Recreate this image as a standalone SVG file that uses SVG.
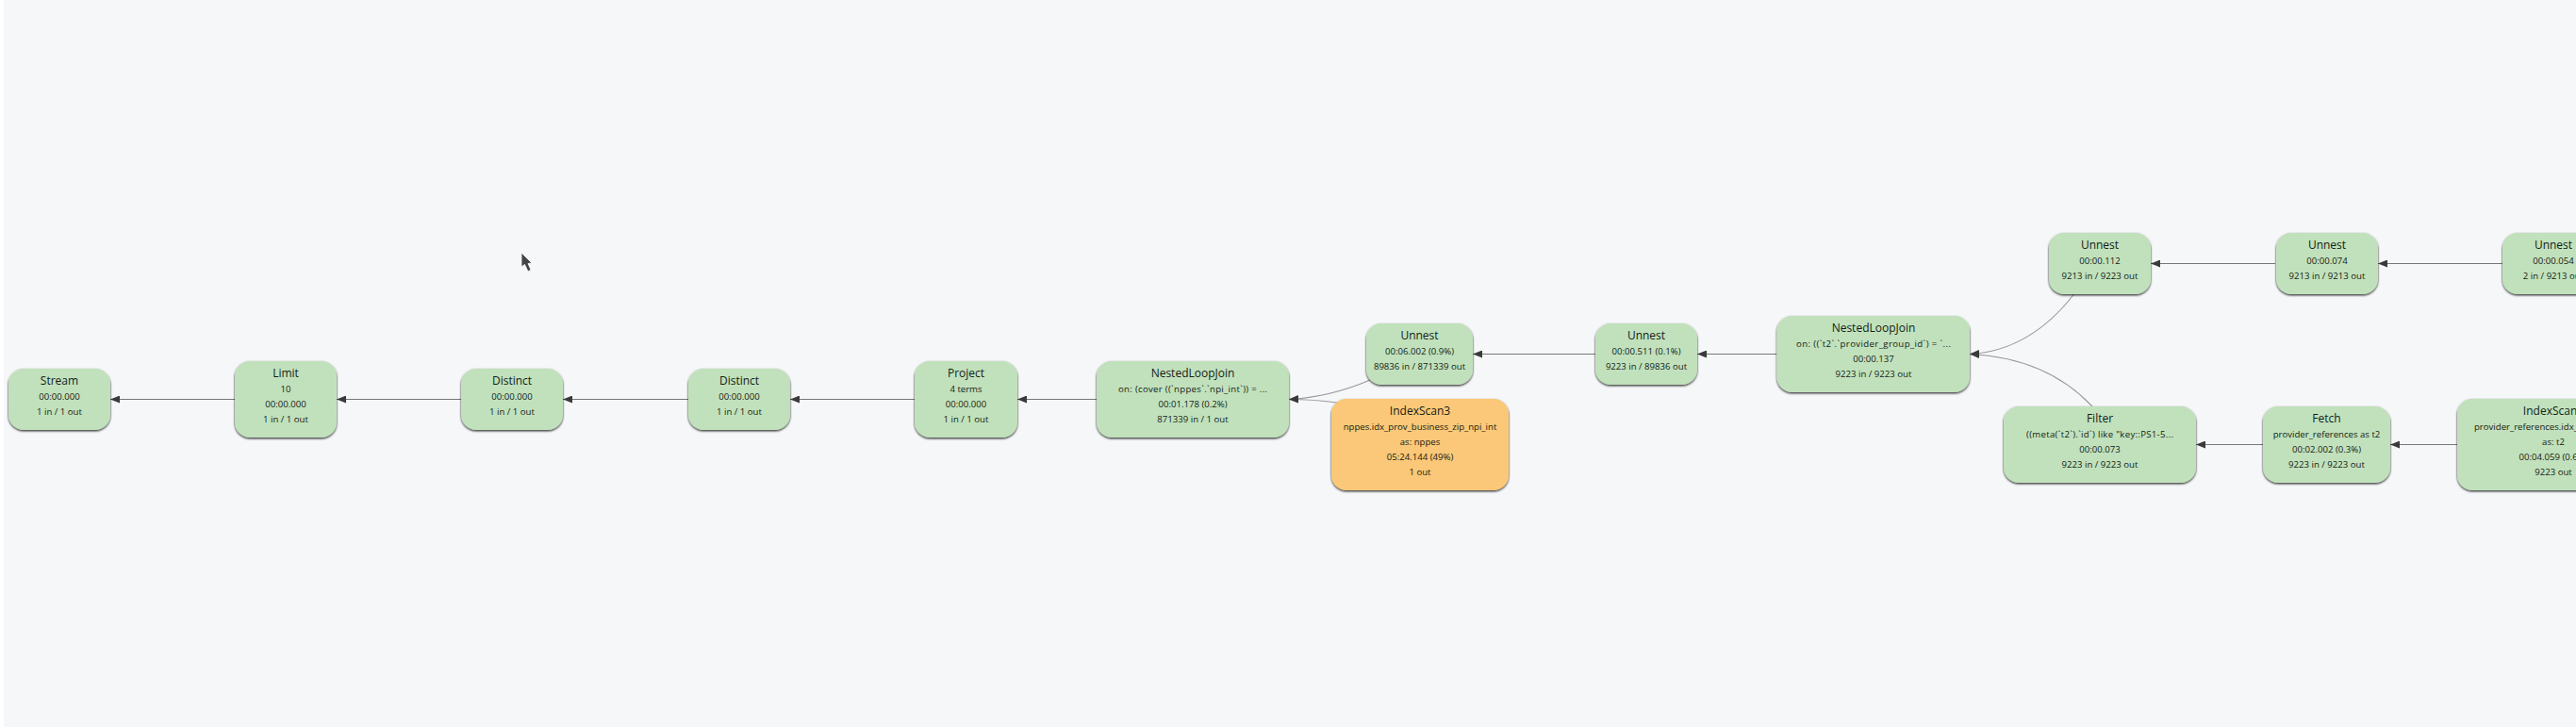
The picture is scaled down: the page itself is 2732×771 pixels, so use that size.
<svg xmlns="http://www.w3.org/2000/svg" width="2732" height="771" viewBox="0 0 2732 771">
<style>
text{font-family:"Open Sans","Noto Sans","DejaVu Sans",sans-serif;text-anchor:middle;fill:#141c14}
.t{font-size:12px}
.s{font-size:9.6px}
.l{text-anchor:start}
.g{fill:#c1e1bc;filter:url(#sh)}
.o{fill:#fac878;filter:url(#sh)}
.e{fill:none;stroke:#777;stroke-width:1.2;marker-end:url(#a)}
.c{fill:none;stroke:#999;stroke-width:1.1;marker-end:url(#a)}
</style>
<defs>
<filter id="sh" x="-10%" y="-10%" width="120%" height="125%"><feDropShadow dx="0" dy="1.2" stdDeviation="0.9" flood-color="#111" flood-opacity=".9"/></filter>
<marker id="a" markerUnits="userSpaceOnUse" markerWidth="10" markerHeight="8" refX="10" refY="4" orient="auto"><path d="M0 0 10 4 0 8Z" fill="#3a3a3a"/></marker>
</defs>
<rect width="2732" height="771" fill="#f6f7f9"/>
<rect width="4" height="771" fill="#fff"/>
<g id="connectors">
<path class="e" d="M249 423.500H117"/>
<path class="e" d="M489 423.500H357"/>
<path class="e" d="M730 423.500H597"/>
<path class="e" d="M970 423.500H838"/>
<path class="e" d="M1163 423.500H1079"/>
<path class="c" d="M1453 403C1425 415 1395 422 1367 423.500"/>
<path class="c" d="M1418 427C1400 424.500 1385 423.500 1367 423.500"/>
<path class="e" d="M1692 375.500H1562"/>
<path class="e" d="M1884 375.500H1800"/>
<path class="c" d="M2199.500 312C2170 350 2135 373 2089 375.500"/>
<path class="c" d="M2219 431C2185 395 2140 378 2089 375.500"/>
<path class="e" d="M2413 279.500H2281"/>
<path class="e" d="M2654 279.500H2522"/>
<path class="e" d="M2400 471.500H2329"/>
<path class="e" d="M2606 471.500H2535"/>
</g>
<g id="stream"><rect class="g" x="9" y="391" width="108" height="65" rx="16"/><text class="t" x="63" y="408">Stream</text><text class="s" x="63" y="424">00:00.000</text><text class="s" x="63" y="440">1 in / 1 out</text></g>
<g id="limit"><rect class="g" x="249" y="383" width="108" height="81" rx="16"/><text class="t" x="303" y="400">Limit</text><text class="s" x="303" y="416">10</text><text class="s" x="303" y="432">00:00.000</text><text class="s" x="303" y="448">1 in / 1 out</text></g>
<g id="distinct1"><rect class="g" x="489" y="391" width="108" height="65" rx="16"/><text class="t" x="543" y="408">Distinct</text><text class="s" x="543" y="424">00:00.000</text><text class="s" x="543" y="440">1 in / 1 out</text></g>
<g id="distinct2"><rect class="g" x="730" y="391" width="108" height="65" rx="16"/><text class="t" x="784" y="408">Distinct</text><text class="s" x="784" y="424">00:00.000</text><text class="s" x="784" y="440">1 in / 1 out</text></g>
<g id="project"><rect class="g" x="970" y="383" width="109" height="81" rx="16"/><text class="t" x="1024.500" y="400">Project</text><text class="s" x="1024.500" y="416">4 terms</text><text class="s" x="1024.500" y="432">00:00.000</text><text class="s" x="1024.500" y="448">1 in / 1 out</text></g>
<g id="nlj1"><rect class="g" x="1163" y="383" width="204" height="81" rx="16"/><text class="t" x="1265" y="400">NestedLoopJoin</text><text class="s" x="1265" y="416" textLength="158">on: (cover ((`nppes`.`npi_int`)) = ...</text><text class="s" x="1265" y="432">00:01.178 (0.2%)</text><text class="s" x="1265" y="448">871339 in / 1 out</text></g>
<g id="unnest1"><rect class="g" x="1449" y="343" width="113" height="65" rx="16"/><text class="t" x="1505.500" y="360">Unnest</text><text class="s" x="1505.500" y="376">00:06.002 (0.9%)</text><text class="s" x="1505.500" y="392">89836 in / 871339 out</text></g>
<g id="indexscan1"><rect class="o" x="1412" y="423" width="188" height="97" rx="16"/><text class="t" x="1506" y="440">IndexScan3</text><text class="s" x="1506" y="456">nppes.idx_prov_business_zip_npi_int</text><text class="s" x="1506" y="472">as: nppes</text><text class="s" x="1506" y="488">05:24.144 (49%)</text><text class="s" x="1506" y="504">1 out</text></g>
<g id="unnest2"><rect class="g" x="1692" y="343" width="108" height="65" rx="16"/><text class="t" x="1746" y="360">Unnest</text><text class="s" x="1746" y="376">00:00.511 (0.1%)</text><text class="s" x="1746" y="392">9223 in / 89836 out</text></g>
<g id="nlj2"><rect class="g" x="1884.500" y="335" width="204.500" height="81" rx="16"/><text class="t" x="1987" y="352">NestedLoopJoin</text><text class="s" x="1987" y="368" textLength="164">on: ((`t2`.`provider_group_id`) = `...</text><text class="s" x="1987" y="384">00:00.137</text><text class="s" x="1987" y="400">9223 in / 9223 out</text></g>
<g id="filter"><rect class="g" x="2125" y="431" width="204" height="81" rx="16"/><text class="t" x="2227" y="448">Filter</text><text class="s" x="2227" y="464" textLength="156">((meta(`t2`).`id`) like "key::PS1-5...</text><text class="s" x="2227" y="480">00:00.073</text><text class="s" x="2227" y="496">9223 in / 9223 out</text></g>
<g id="fetch"><rect class="g" x="2400" y="431" width="135" height="81" rx="16"/><text class="t" x="2467.500" y="448">Fetch</text><text class="s" x="2467.500" y="464">provider_references as t2</text><text class="s" x="2467.500" y="480">00:02.002 (0.3%)</text><text class="s" x="2467.500" y="496">9223 in / 9223 out</text></g>
<g id="indexscan2"><rect class="g" x="2606" y="423" width="204" height="97" rx="16"/><text class="t" x="2708" y="440">IndexScan3</text><text class="s l" x="2624" y="456">provider_references.idx_</text><text class="s" x="2708" y="472">as: t2</text><text class="s" x="2708" y="488">00:04.059 (0.6%)</text><text class="s" x="2708" y="504">9223 out</text></g>
<g id="unnest3"><rect class="g" x="2173" y="247" width="108" height="65" rx="16"/><text class="t" x="2227" y="264">Unnest</text><text class="s" x="2227" y="280">00:00.112</text><text class="s" x="2227" y="296">9213 in / 9223 out</text></g>
<g id="unnest4"><rect class="g" x="2414" y="247" width="108" height="65" rx="16"/><text class="t" x="2468" y="264">Unnest</text><text class="s" x="2468" y="280">00:00.074</text><text class="s" x="2468" y="296">9213 in / 9213 out</text></g>
<g id="unnest5"><rect class="g" x="2654" y="247" width="108" height="65" rx="16"/><text class="t" x="2708" y="264">Unnest</text><text class="s" x="2708" y="280">00:00.054</text><text class="s" x="2708" y="296">2 in / 9213 out</text></g>
<path id="cursor" d="M553 268V283L556.500 280.500 560 288 563 286 560 279.500 564 279Z" fill="#454545" stroke="#fff" stroke-width=".8"/>
</svg>
